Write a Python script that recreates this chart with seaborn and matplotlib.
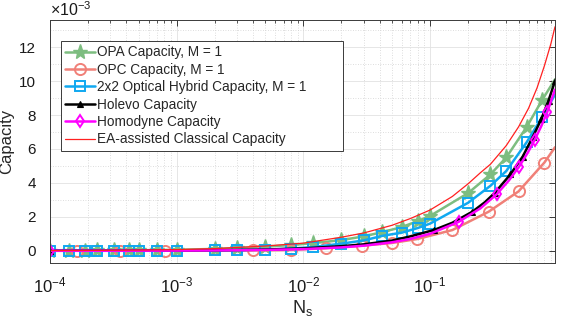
import numpy as np
import pandas as pd
import matplotlib
matplotlib.use("Agg")
import matplotlib.pyplot as plt
import seaborn as sns
from matplotlib.lines import Line2D
from matplotlib.ticker import LogLocator, MultipleLocator, NullFormatter, ScalarFormatter

# ---------------- data (capacity in units of 1e-3) ----------------
opa_N = [1e-4, 1.4e-4, 1.9e-4, 2.35e-4, 3.2e-4, 4.2e-4, 5e-4, 7e-4, 1e-3, 2e-3, 3e-3, 5e-3,
         8e-3, 1.2e-2, 2e-2, 3e-2, 4.2e-2, 6e-2, 8e-2, 0.1, 0.2, 0.3, 0.4, 0.58, 0.77, 0.97]
opa_C = [0.008, 0.011, 0.014, 0.017, 0.022, 0.028, 0.032, 0.043, 0.06, 0.11, 0.16, 0.24,
         0.34, 0.45, 0.63, 0.85, 1.1, 1.4, 1.75, 2.05, 3.4, 4.5, 5.5, 7.3, 8.9, 10.1]

hyb_N = opa_N
hyb_C = [0.0, 0.0, 0.0, 0.0, 0.0, 0.0, 0.0, 0.0, 0.01, 0.02, 0.035, 0.07,
         0.13, 0.22, 0.42, 0.61, 0.88, 1.07, 1.34, 1.6, 2.83, 3.83, 4.7, 6.4, 7.9, 9.2]

opc_N = [1e-4, 1.63e-4, 3.6e-4, 8.1e-4, 4e-3, 8e-3, 1.5e-2, 2.9e-2, 5e-2, 7.9e-2,
         0.15, 0.29, 0.5, 0.8, 0.97]
opc_C = [0.0, 0.0, 0.001, 0.003, 0.02, 0.05, 0.15, 0.3, 0.46, 0.69,
         1.22, 2.3, 3.5, 5.2, 6.1]

hol_N = [1e-4, 2e-4, 5e-4, 1e-3, 2e-3, 5e-3, 0.01, 0.02, 0.03, 0.05, 0.07, 0.1078, 0.15,
         0.2156, 0.27, 0.3234, 0.431, 0.539, 0.647, 0.755, 0.862, 0.97]
hol_C = [0.002, 0.004, 0.008, 0.015, 0.03, 0.07, 0.14, 0.27, 0.38, 0.6, 0.85, 1.23, 1.65,
         2.3, 2.85, 3.4, 4.5, 5.55, 6.7, 7.75, 8.85, 10.0]
hol_mark = [1e-4, 0.1078, 0.2156, 0.3234, 0.431, 0.539, 0.647, 0.755, 0.862, 0.97]

hom_N = [1e-4, 2e-4, 5e-4, 1e-3, 2e-3, 5e-3, 0.01, 0.02, 0.03, 0.05, 0.07, 0.1, 0.168,
         0.25, 0.336, 0.42, 0.504, 0.588, 0.672, 0.756, 0.84, 0.97]
hom_C = [0.001, 0.002, 0.005, 0.01, 0.02, 0.05, 0.1, 0.2, 0.3, 0.5, 0.7, 1.0, 1.7,
         2.5, 3.33, 4.15, 4.95, 5.75, 6.55, 7.35, 8.15, 9.5]
hom_mark = [1e-4, 0.168, 0.336, 0.504, 0.672, 0.84]

ea_N = [1e-4, 2e-4, 5e-4, 1e-3, 2e-3, 5e-3, 0.01, 0.02, 0.03, 0.05, 0.07, 0.1, 0.15,
        0.2, 0.25, 0.3, 0.4, 0.5, 0.6, 0.7, 0.8, 0.9, 0.97]
ea_C = [0.01, 0.02, 0.04, 0.07, 0.13, 0.28, 0.45, 0.8, 1.05, 1.5, 1.9, 2.4, 3.2,
        3.95, 4.6, 5.1, 6.2, 7.3, 8.4, 9.6, 10.9, 12.2, 13.2]

labels = ["OPA Capacity, M = 1", "OPC Capacity, M = 1",
          "2x2 Optical Hybrid Capacity, M = 1", "Holevo Capacity",
          "Homodyne Capacity", "EA-assisted Classical Capacity"]
x_ticks = [1e-4, 1e-3, 1e-2, 1e-1]
y_ticks = [0, 2, 4, 6, 8, 10, 12]

# ---------------- style ----------------
sns.set_style("white")
plt.rcParams["font.family"] = ["Liberation Sans", "DejaVu Sans"]
plt.rcParams["mathtext.fontset"] = "custom"
plt.rcParams["mathtext.rm"] = "Liberation Sans"
plt.rcParams["mathtext.it"] = "Liberation Sans:italic"
plt.rcParams["axes.unicode_minus"] = False

c_opa = "#7dbd80"
c_opc = "#f08078"
c_hyb = "#10a8f0"
c_hol = "#000000"
c_hom = "#ff00ff"
c_ea = "#ff2020"

fig = plt.figure(figsize=(5.62, 3.23), dpi=100)
ax = fig.add_axes([50 / 562, 1 - 263 / 323, 505 / 562, 243 / 323])
ax.set_xscale("log")

def mask_of(N, marks):
    return [i for i, n in enumerate(N) if any(abs(n - m) < 1e-12 for m in marks)]

styles = [
    dict(N=opa_N, C=opa_C, color=c_opa, lw=1.8, marker="*", ms=11, mfc=c_opa, mec=c_opa, mew=1.0,
         me=list(range(len(opa_N) - 1))),
    dict(N=opc_N, C=opc_C, color=c_opc, lw=1.8, marker="o", ms=8, mfc="none", mec=c_opc, mew=1.4,
         me=list(range(1, len(opc_N) - 1))),
    dict(N=hyb_N, C=hyb_C, color=c_hyb, lw=1.8, marker="s", ms=6.5, mfc="none", mec=c_hyb, mew=1.4,
         me=list(range(len(hyb_N) - 1))),
    dict(N=hol_N, C=hol_C, color=c_hol, lw=1.8, marker="^", ms=4, mfc=c_hol, mec=c_hol, mew=0.8,
         me=mask_of(hol_N, hol_mark)),
    dict(N=hom_N, C=hom_C, color=c_hom, lw=1.8, marker="d", ms=6.5, mfc="none", mec=c_hom, mew=1.4,
         me=mask_of(hom_N, hom_mark)),
    dict(N=ea_N, C=ea_C, color=c_ea, lw=0.9, marker=None, ms=0, mfc="none", mec=c_ea, mew=0,
         me=None),
]

handles = []
for st, lab in zip(styles, labels):
    df = pd.DataFrame({"N": st["N"], "C": np.array(st["C"]) * 1e-3})
    kw = dict(color=st["color"], linewidth=st["lw"], estimator=None, legend=False, ax=ax)
    if st["marker"] is not None:
        kw.update(marker=st["marker"], markersize=st["ms"], markerfacecolor=st["mfc"],
                  markeredgecolor=st["mec"], markeredgewidth=st["mew"], markevery=st["me"])
    sns.lineplot(data=df, x="N", y="C", **kw)
    handles.append(Line2D([], [], color=st["color"], lw=st["lw"],
                          marker=st["marker"] if st["marker"] else None,
                          ms=st["ms"], mfc=st["mfc"], mec=st["mec"], mew=st["mew"]))


class FixedOrder(ScalarFormatter):
    def _set_order_of_magnitude(self):
        self.orderOfMagnitude = -3

    def _set_format(self):
        self.format = "%d"


# ---------------- axes ----------------
ax.set_xlim(1e-4, 0.97)
ax.set_ylim(-0.72e-3, 13.6e-3)
ax.set_xticks(x_ticks)
ax.xaxis.set_minor_locator(LogLocator(base=10, subs=np.arange(2, 10), numticks=20))
ax.xaxis.set_minor_formatter(NullFormatter())
ax.set_yticks([v * 1e-3 for v in y_ticks])
ax.yaxis.set_minor_locator(MultipleLocator(1e-3))
fmt = FixedOrder(useMathText=True)
fmt.set_scientific(True)
ax.yaxis.set_major_formatter(fmt)
ax.yaxis.get_offset_text().set_fontsize(11.5)

ax.grid(True, which="major", color="#e2e2e2", lw=0.6, ls="-")
ax.grid(True, which="minor", color="#d2d2d2", lw=0.6, ls=(0, (1, 2)))
ax.set_axisbelow(True)

for s in ax.spines.values():
    s.set_visible(True)
    s.set_color("#3a3a3a")
    s.set_linewidth(0.7)
ax.tick_params(which="both", direction="in", top=True, right=True, colors="#3a3a3a",
               labelcolor="#1a1a1a")
ax.tick_params(axis="y", labelsize=11)
ax.tick_params(axis="x", labelsize=12)
ax.tick_params(which="major", length=4, width=0.7)
ax.tick_params(axis="x", which="minor", length=2.5, width=0.6)
ax.tick_params(axis="y", which="minor", length=0)
ax.tick_params(axis="x", pad=9)
ax.tick_params(axis="y", pad=10)

ax.set_xlabel(r"$\mathregular{N_s}$", fontsize=13, labelpad=2)
ax.set_ylabel("Capacity", fontsize=12)
ax.yaxis.set_label_coords(-0.071, 0.5)

leg = ax.legend(handles, labels, loc="upper left",
                bbox_to_anchor=(0.0212, 0.52, 0.559, 0.395), mode="expand",
                fontsize=9.8, frameon=True, fancybox=False, framealpha=1,
                edgecolor="#3a3a3a", handlelength=2.2, handletextpad=0.15,
                labelspacing=0.25, borderpad=0.35, borderaxespad=0.0)
leg.get_frame().set_linewidth(0.7)

fig.savefig("out.png", dpi=100)
